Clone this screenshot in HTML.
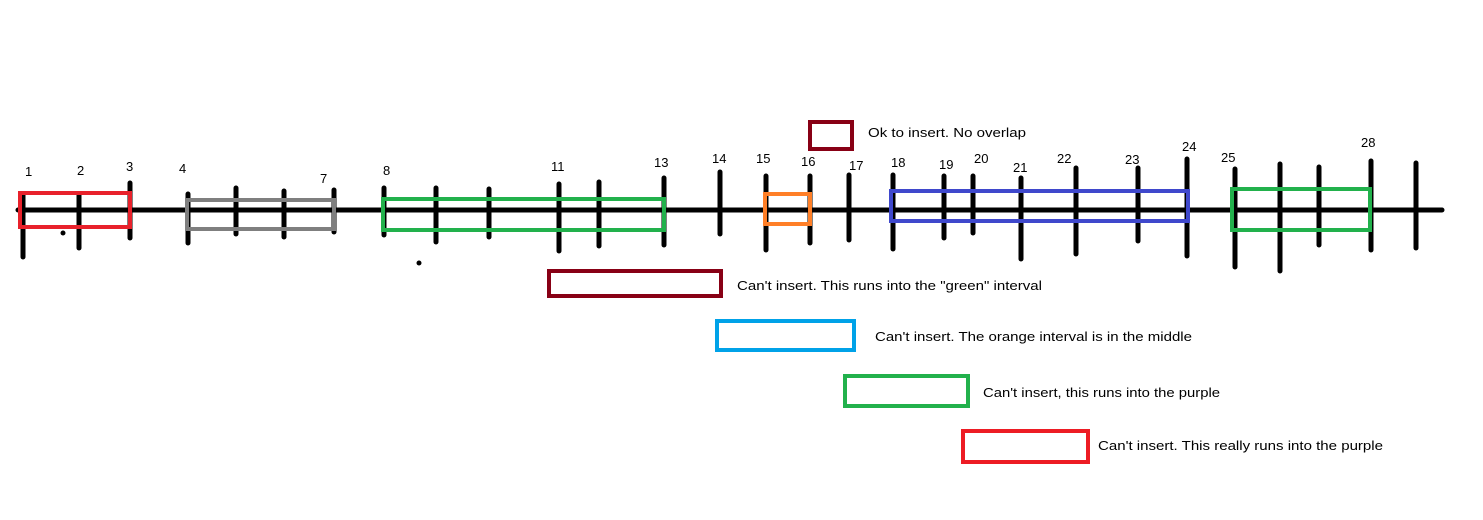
<!DOCTYPE html>
<html><head><meta charset="utf-8"><style>body{margin:0;background:#fff}svg{display:block}</style></head>
<body>
<svg width="1483" height="520" viewBox="0 0 1483 520" xmlns="http://www.w3.org/2000/svg" font-family="Liberation Sans, sans-serif" font-size="13" fill="#000">
<rect width="1483" height="520" fill="#fff"/>
<line x1="18" y1="210" x2="1442" y2="210" stroke="#000" stroke-width="5" stroke-linecap="round"/>
<g stroke="#000" stroke-width="5" stroke-linecap="round">
<line x1="23" y1="195" x2="23" y2="257"/>
<line x1="79" y1="195" x2="79" y2="248"/>
<line x1="130" y1="183" x2="130" y2="238"/>
<line x1="188" y1="194" x2="188" y2="243"/>
<line x1="236" y1="188" x2="236" y2="234"/>
<line x1="284" y1="191" x2="284" y2="237"/>
<line x1="334" y1="190" x2="334" y2="232"/>
<line x1="384" y1="188" x2="384" y2="235"/>
<line x1="436" y1="188" x2="436" y2="242"/>
<line x1="489" y1="189" x2="489" y2="237"/>
<line x1="559" y1="184" x2="559" y2="251"/>
<line x1="599" y1="182" x2="599" y2="246"/>
<line x1="664" y1="178" x2="664" y2="245"/>
<line x1="720" y1="172" x2="720" y2="234"/>
<line x1="766" y1="176" x2="766" y2="250"/>
<line x1="810" y1="176" x2="810" y2="243"/>
<line x1="849" y1="175" x2="849" y2="240"/>
<line x1="893" y1="175" x2="893" y2="249"/>
<line x1="944" y1="176" x2="944" y2="238"/>
<line x1="973" y1="176" x2="973" y2="233"/>
<line x1="1021" y1="178" x2="1021" y2="259"/>
<line x1="1076" y1="168" x2="1076" y2="254"/>
<line x1="1138" y1="168" x2="1138" y2="241"/>
<line x1="1187" y1="159" x2="1187" y2="256"/>
<line x1="1235" y1="169" x2="1235" y2="267"/>
<line x1="1280" y1="164" x2="1280" y2="271"/>
<line x1="1319" y1="167" x2="1319" y2="245"/>
<line x1="1371" y1="161" x2="1371" y2="250"/>
<line x1="1416" y1="163" x2="1416" y2="248"/>
</g>
<g fill="none" stroke-width="4">
<rect x="20" y="193" width="110" height="34" stroke="#e8212b"/>
<rect x="187" y="200" width="147" height="29" stroke="#7f7f7f"/>
<rect x="383" y="199" width="281" height="31" stroke="#22b14c"/>
<rect x="765" y="194" width="45" height="30" stroke="#ff7f27"/>
<rect x="891" y="191" width="297" height="30" stroke="#3f48cc"/>
<rect x="1232" y="189" width="138" height="41" stroke="#22b14c"/>
<rect x="810" y="122" width="42" height="27" stroke="#880015"/>
<rect x="549" y="271" width="172" height="25" stroke="#880015"/>
<rect x="717" y="321" width="137" height="29" stroke="#00a2e8"/>
<rect x="845" y="376" width="123" height="30" stroke="#22b14c"/>
<rect x="963" y="431" width="125" height="31" stroke="#ed1c24"/>
</g>
<circle cx="63" cy="233" r="2.5"/>
<circle cx="419" cy="263" r="2.5"/>
<g>
<text x="25" y="176">1</text><text x="77" y="175">2</text><text x="126" y="171">3</text>
<text x="179" y="173">4</text><text x="320" y="183">7</text><text x="383" y="175">8</text>
<text x="551" y="171">11</text><text x="654" y="167">13</text><text x="712" y="163">14</text>
<text x="756" y="163">15</text><text x="801" y="166">16</text><text x="849" y="170">17</text>
<text x="891" y="167">18</text><text x="939" y="169">19</text><text x="974" y="163">20</text>
<text x="1013" y="172">21</text><text x="1057" y="163">22</text><text x="1125" y="164">23</text>
<text x="1182" y="151">24</text><text x="1221" y="162">25</text><text x="1361" y="147">28</text>
</g>
<text x="868" y="137" textLength="158" lengthAdjust="spacingAndGlyphs">Ok to insert.  No overlap</text>
<text x="737" y="290" textLength="305" lengthAdjust="spacingAndGlyphs">Can't insert.  This runs into the "green" interval</text>
<text x="875" y="341" textLength="317" lengthAdjust="spacingAndGlyphs">Can't insert.  The orange interval is in the middle</text>
<text x="983" y="397" textLength="237" lengthAdjust="spacingAndGlyphs">Can't insert, this runs into the purple</text>
<text x="1098" y="450" textLength="285" lengthAdjust="spacingAndGlyphs">Can't insert.  This really runs into the purple</text>
</svg>
</body></html>
